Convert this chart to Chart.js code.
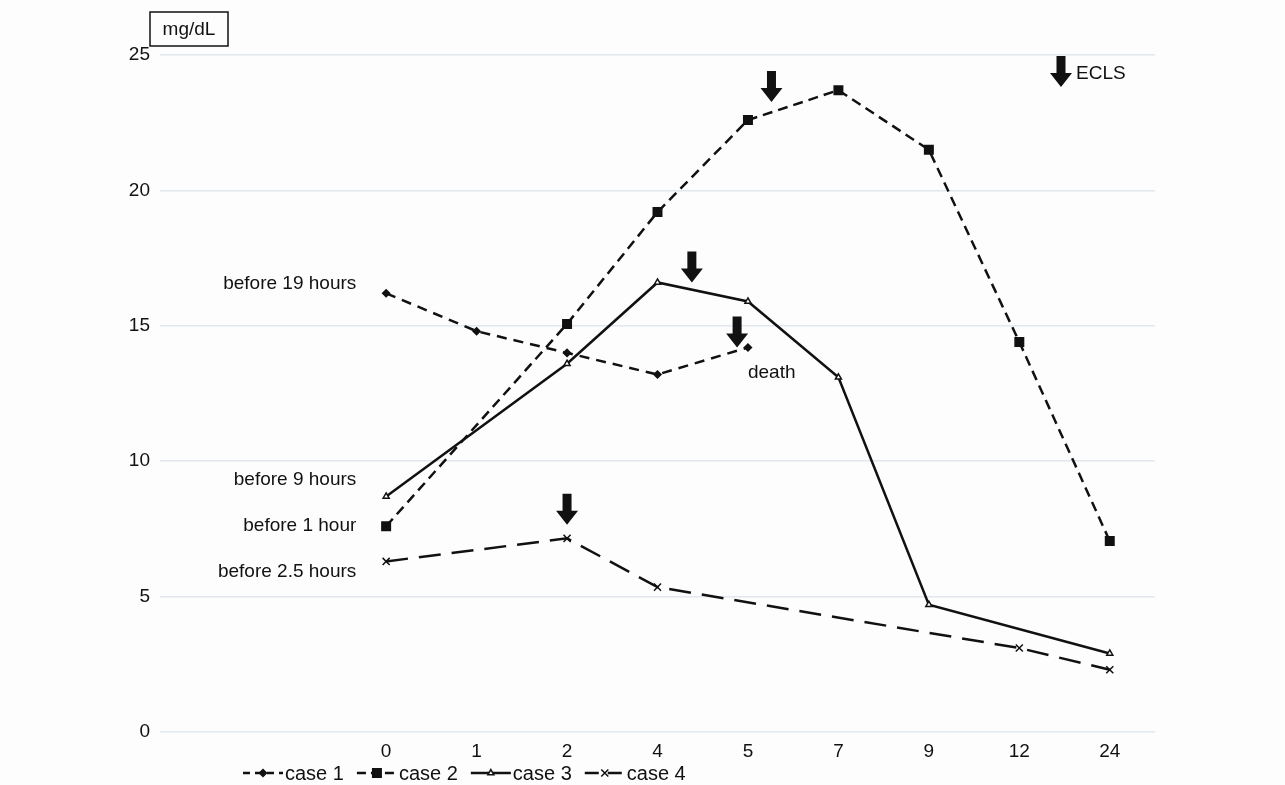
<!DOCTYPE html>
<html><head><meta charset="utf-8">
<script src="https://cdn.jsdelivr.net/npm/chart.js@4/dist/chart.umd.min.js"></script>
<style>html,body{margin:0;padding:0;background:#fdfdfd;}#wrap{width:1285px;height:785px;}</style>
</head><body><div id="wrap"><canvas id="c" width="1285" height="785"></canvas></div>
<script>
const categories = ['', '', '0', '1', '2', '4', '5', '7', '9', '12', '24'];
const case1 = [null, null, 16.2, 14.8, 14.0, 13.2, 14.2, null, null, null, null];
const case2 = [null, null, 7.6, null, 15.07, 19.2, 22.6, 23.7, 21.5, 14.4, 7.05];
const case3 = [null, null, 8.7, null, 13.6, 16.6, 15.9, 13.1, 4.7, null, 2.9];
const case4 = [null, null, 6.3, null, 7.15, 5.35, null, null, null, 3.1, 2.3];
const seriesNames = ['case 1', 'case 2', 'case 3', 'case 4'];
const yTicks = [0, 5, 10, 15, 20, 25];
// arrow annotations: [category index (fractional), tip value]
const arrowsX = [5.88, 6.26, 5.38, 4.0];
const arrowsY = [14.2, 23.26, 16.6, 7.65];
const notes = [
  {text: 'before 19 hours', x: 1.67, y: 16.55, align: 'right'},
  {text: 'before 9 hours', x: 1.67, y: 9.3, align: 'right'},
  {text: 'before 1 hour', x: 1.67, y: 7.6, align: 'right'},
  {text: 'before 2.5 hours', x: 1.67, y: 5.9, align: 'right'},
  {text: 'death', x: 6.0, y: 13.25, align: 'left'}
];
const INK = '#111';

function drawArrow(ctx, x, tipY) {
  ctx.save();
  ctx.fillStyle = INK;
  ctx.beginPath();
  ctx.moveTo(x - 4.5, tipY - 31);
  ctx.lineTo(x + 4.5, tipY - 31);
  ctx.lineTo(x + 4.5, tipY - 14);
  ctx.lineTo(x + 11, tipY - 14);
  ctx.lineTo(x, tipY);
  ctx.lineTo(x - 11, tipY - 14);
  ctx.lineTo(x - 4.5, tipY - 14);
  ctx.closePath();
  ctx.fill();
  ctx.restore();
}

const legendDash = [[7, 5], [9, 5], [], [14, 9]];

const extras = {
  id: 'extras',
  afterDraw(chart) {
    const ctx = chart.ctx, xs = chart.scales.x, ys = chart.scales.y;
    ctx.save();
    ctx.font = '19px "Liberation Sans", Arial, sans-serif';
    ctx.fillStyle = INK;
    ctx.textBaseline = 'middle';
    // unit box
    ctx.strokeStyle = INK; ctx.lineWidth = 1.5;
    ctx.strokeRect(150, 12, 78, 34);
    ctx.textAlign = 'center';
    ctx.fillText('mg/dL', 189, 30);
    // notes
    notes.forEach(n => {
      ctx.textAlign = n.align;
      ctx.fillText(n.text, xs.getPixelForValue(n.x), ys.getPixelForValue(n.y));
    });
    // arrows
    arrowsX.forEach((ax, i) => drawArrow(ctx, xs.getPixelForValue(ax), ys.getPixelForValue(arrowsY[i])));
    // ECLS key
    drawArrow(ctx, 1061, 87);
    ctx.textAlign = 'left';
    ctx.fillText('ECLS', 1076, 74);
    // legend
    ctx.font = '20px "Liberation Sans", Arial, sans-serif';
    const widths = seriesNames.map(s => ctx.measureText(s).width);
    let x = 243; const y = 773;
    chart.data.datasets.forEach((ds, i) => {
      ctx.save();
      ctx.strokeStyle = INK; ctx.lineWidth = 2.5;
      ctx.setLineDash(legendDash[i]);
      ctx.beginPath(); ctx.moveTo(x, y); ctx.lineTo(x + 40, y); ctx.stroke();
      ctx.setLineDash([]);
      ctx.fillStyle = ds.pointBackgroundColor; ctx.strokeStyle = INK; ctx.lineWidth = 1.5;
      Chart.helpers.drawPoint(ctx, {pointStyle: ds.pointStyle, radius: ds.pointRadius, rotation: 0, borderWidth: 1.5}, x + 20, y);
      ctx.restore();
      ctx.fillStyle = INK; ctx.textAlign = 'left';
      ctx.fillText(seriesNames[i], x + 42, y + 1);
      x += 42 + widths[i] + 13;
    });
    ctx.restore();
  }
};

const base = {borderColor: INK, borderWidth: 2.5, spanGaps: true, tension: 0, pointBorderColor: INK, pointBorderWidth: 1.5, pointHoverRadius: 0};
new Chart(document.getElementById('c'), {
  type: 'line',
  data: {
    labels: categories,
    datasets: [
      Object.assign({}, base, {label: seriesNames[0], data: case1, borderDash: [10, 7], pointStyle: 'rectRot', pointRadius: 3.5, pointBackgroundColor: INK}),
      Object.assign({}, base, {label: seriesNames[1], data: case2, borderDash: [10, 6], pointStyle: 'rect', pointRadius: 6, pointBackgroundColor: INK}),
      Object.assign({}, base, {label: seriesNames[2], data: case3, borderDash: [], pointStyle: 'triangle', pointRadius: 3.5, pointBackgroundColor: '#fff'}),
      Object.assign({}, base, {label: seriesNames[3], data: case4, borderDash: [22, 11], pointStyle: 'crossRot', pointRadius: 5, pointBackgroundColor: INK})
    ]
  },
  options: {
    responsive: false,
    animation: false,
    events: [],
    layout: {padding: {left: 100, right: 130, top: 55, bottom: 0}},
    plugins: {legend: {display: false}, tooltip: {enabled: false}},
    scales: {
      x: {
        offset: true,
        grid: {display: false, drawTicks: false, offset: true},
        border: {display: false},
        ticks: {color: INK, font: {size: 19, family: '"Liberation Sans", Arial'}, padding: 8, autoSkip: false, maxRotation: 0},
        afterFit(s) { s.height = 53; }
      },
      y: {
        min: 0, max: 25,
        afterBuildTicks(s) { s.ticks = yTicks.map(v => ({value: v})); },
        grid: {color: '#e2e8ee', lineWidth: 1.5, drawTicks: false},
        border: {display: false},
        ticks: {color: INK, font: {size: 19, family: '"Liberation Sans", Arial'}, padding: 10},
        afterFit(s) { s.width = 60; }
      }
    }
  },
  plugins: [extras]
});
</script></body></html>
